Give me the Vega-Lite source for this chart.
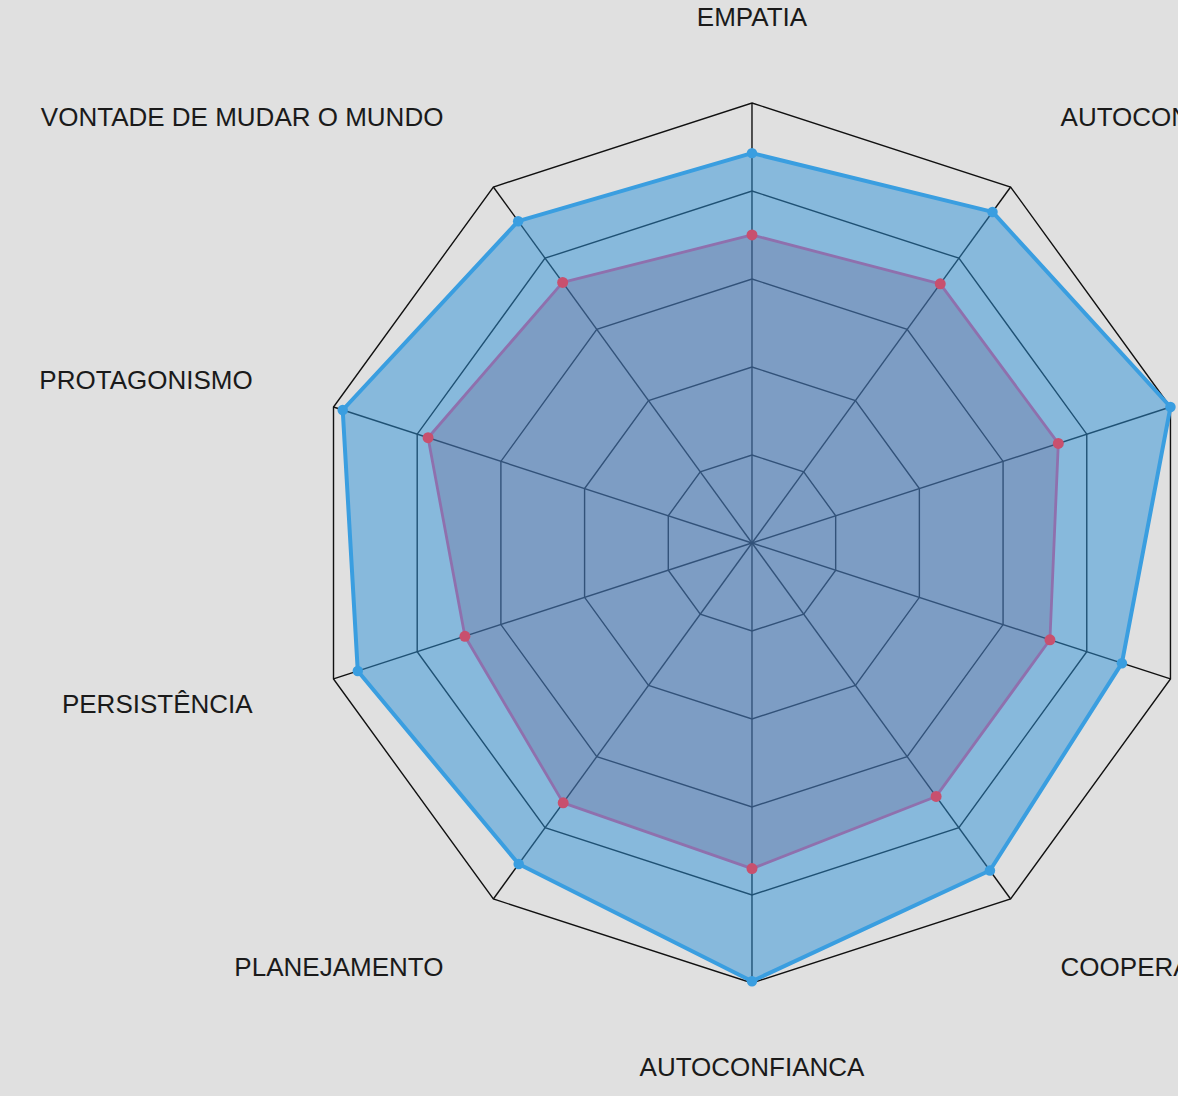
{
  "$schema": "https://vega.github.io/schema/vega-lite/v6.json",
  "width": 1178,
  "height": 1096,
  "autosize": {"type": "none"},
  "padding": 0,
  "background": "#e0e0e0",
  "config": {"view": {"stroke": null}},
  "datasets": {
    "skills": [
      {"skill": "EMPATIA", "order": 0, "A": 4.43, "B": 3.5},
      {"skill": "AUTOCONHECIMENTO", "order": 1, "A": 4.65, "B": 3.64},
      {"skill": "CRIATIVIDADE", "order": 2, "A": 5.0, "B": 3.66},
      {"skill": "COMUNICAÇÃO", "order": 3, "A": 4.42, "B": 3.56},
      {"skill": "COOPERAÇÃO", "order": 4, "A": 4.6, "B": 3.56},
      {"skill": "AUTOCONFIANCA", "order": 5, "A": 4.98, "B": 3.7},
      {"skill": "PLANEJAMENTO", "order": 6, "A": 4.51, "B": 3.65},
      {"skill": "PERSISTÊNCIA", "order": 7, "A": 4.71, "B": 3.43},
      {"skill": "PROTAGONISMO", "order": 8, "A": 4.89, "B": 3.87},
      {"skill": "VONTADE DE MUDAR O MUNDO", "order": 9, "A": 4.52, "B": 3.66}
    ],
    "grid": [
      {"order": 0, "levels": [1, 2, 3, 4, 5]},
      {"order": 1, "levels": [1, 2, 3, 4, 5]},
      {"order": 2, "levels": [1, 2, 3, 4, 5]},
      {"order": 3, "levels": [1, 2, 3, 4, 5]},
      {"order": 4, "levels": [1, 2, 3, 4, 5]},
      {"order": 5, "levels": [1, 2, 3, 4, 5]},
      {"order": 6, "levels": [1, 2, 3, 4, 5]},
      {"order": 7, "levels": [1, 2, 3, 4, 5]},
      {"order": 8, "levels": [1, 2, 3, 4, 5]},
      {"order": 9, "levels": [1, 2, 3, 4, 5]}
    ]
  },
  "encoding": {
    "x": {"field": "x", "type": "quantitative", "scale": {"domain": [-8.545, 4.841], "nice": false, "zero": false}, "axis": null},
    "y": {"field": "y", "type": "quantitative", "scale": {"domain": [-6.284, 6.17], "nice": false, "zero": false}, "axis": null}
  },
  "layer": [
    {
      "data": {"name": "grid"},
      "transform": [
        {"flatten": ["levels"], "as": ["level"]},
        {"calculate": "datum.order * PI / 5", "as": "ang"},
        {"calculate": "datum.level * sin(datum.ang)", "as": "x"},
        {"calculate": "datum.level * cos(datum.ang)", "as": "y"}
      ],
      "mark": {"type": "line", "interpolate": "linear-closed", "stroke": "#111111", "strokeWidth": 1.4},
      "encoding": {
        "detail": {"field": "level", "type": "nominal"},
        "order": {"field": "order", "type": "quantitative"}
      }
    },
    {
      "data": {"name": "skills"},
      "transform": [
        {"calculate": "datum.order * PI / 5", "as": "ang"},
        {"calculate": "5 * sin(datum.ang)", "as": "x"},
        {"calculate": "5 * cos(datum.ang)", "as": "y"}
      ],
      "mark": {"type": "rule", "stroke": "#111111", "strokeWidth": 1.4},
      "encoding": {
        "x": {"datum": 0, "type": "quantitative"},
        "y": {"datum": 0, "type": "quantitative"},
        "x2": {"field": "x"},
        "y2": {"field": "y"}
      }
    },
    {
      "data": {"name": "skills"},
      "transform": [
        {"calculate": "datum.order * PI / 5", "as": "ang"},
        {"calculate": "datum.A * sin(datum.ang)", "as": "x"},
        {"calculate": "datum.A * cos(datum.ang)", "as": "y"}
      ],
      "mark": {"type": "line", "interpolate": "linear-closed", "fill": "#2e92d8", "fillOpacity": 0.5, "stroke": "#3a9ee0", "strokeWidth": 4, "strokeJoin": "round"},
      "encoding": {"order": {"field": "order", "type": "quantitative"}}
    },
    {
      "data": {"name": "skills"},
      "transform": [
        {"calculate": "datum.order * PI / 5", "as": "ang"},
        {"calculate": "datum.B * sin(datum.ang)", "as": "x"},
        {"calculate": "datum.B * cos(datum.ang)", "as": "y"}
      ],
      "mark": {"type": "line", "interpolate": "linear-closed", "fill": "#65558a", "fillOpacity": 0.28, "stroke": "#8f70ad", "strokeWidth": 2.8, "strokeJoin": "round"},
      "encoding": {"order": {"field": "order", "type": "quantitative"}}
    },
    {
      "data": {"name": "skills"},
      "transform": [
        {"calculate": "datum.order * PI / 5", "as": "ang"},
        {"calculate": "datum.A * sin(datum.ang)", "as": "x"},
        {"calculate": "datum.A * cos(datum.ang)", "as": "y"}
      ],
      "mark": {"type": "circle", "color": "#3a9ee0", "opacity": 1, "size": 110}
    },
    {
      "data": {"name": "skills"},
      "transform": [
        {"calculate": "datum.order * PI / 5", "as": "ang"},
        {"calculate": "datum.B * sin(datum.ang)", "as": "x"},
        {"calculate": "datum.B * cos(datum.ang)", "as": "y"}
      ],
      "mark": {"type": "circle", "color": "#c8506e", "opacity": 1, "size": 120}
    },
    {
      "data": {"name": "skills"},
      "transform": [
        {"filter": "datum.order == 0 || datum.order == 5"},
        {"calculate": "datum.order * PI / 5", "as": "ang"},
        {"calculate": "5.966 * sin(datum.ang)", "as": "x"},
        {"calculate": "5.966 * cos(datum.ang)", "as": "y"}
      ],
      "mark": {"type": "text", "align": "center", "baseline": "middle", "font": "Liberation Sans", "fontSize": 26, "color": "#1a1a1a"},
      "encoding": {"text": {"field": "skill"}}
    },
    {
      "data": {"name": "skills"},
      "transform": [
        {"filter": "datum.order >= 1 && datum.order <= 4"},
        {"calculate": "datum.order * PI / 5", "as": "ang"},
        {"calculate": "5.966 * sin(datum.ang)", "as": "x"},
        {"calculate": "5.966 * cos(datum.ang)", "as": "y"}
      ],
      "mark": {"type": "text", "align": "left", "baseline": "middle", "font": "Liberation Sans", "fontSize": 26, "color": "#1a1a1a"},
      "encoding": {"text": {"field": "skill"}}
    },
    {
      "data": {"name": "skills"},
      "transform": [
        {"filter": "datum.order >= 6"},
        {"calculate": "datum.order * PI / 5", "as": "ang"},
        {"calculate": "5.966 * sin(datum.ang)", "as": "x"},
        {"calculate": "5.966 * cos(datum.ang)", "as": "y"}
      ],
      "mark": {"type": "text", "align": "right", "baseline": "middle", "font": "Liberation Sans", "fontSize": 26, "color": "#1a1a1a"},
      "encoding": {"text": {"field": "skill"}}
    }
  ]
}
